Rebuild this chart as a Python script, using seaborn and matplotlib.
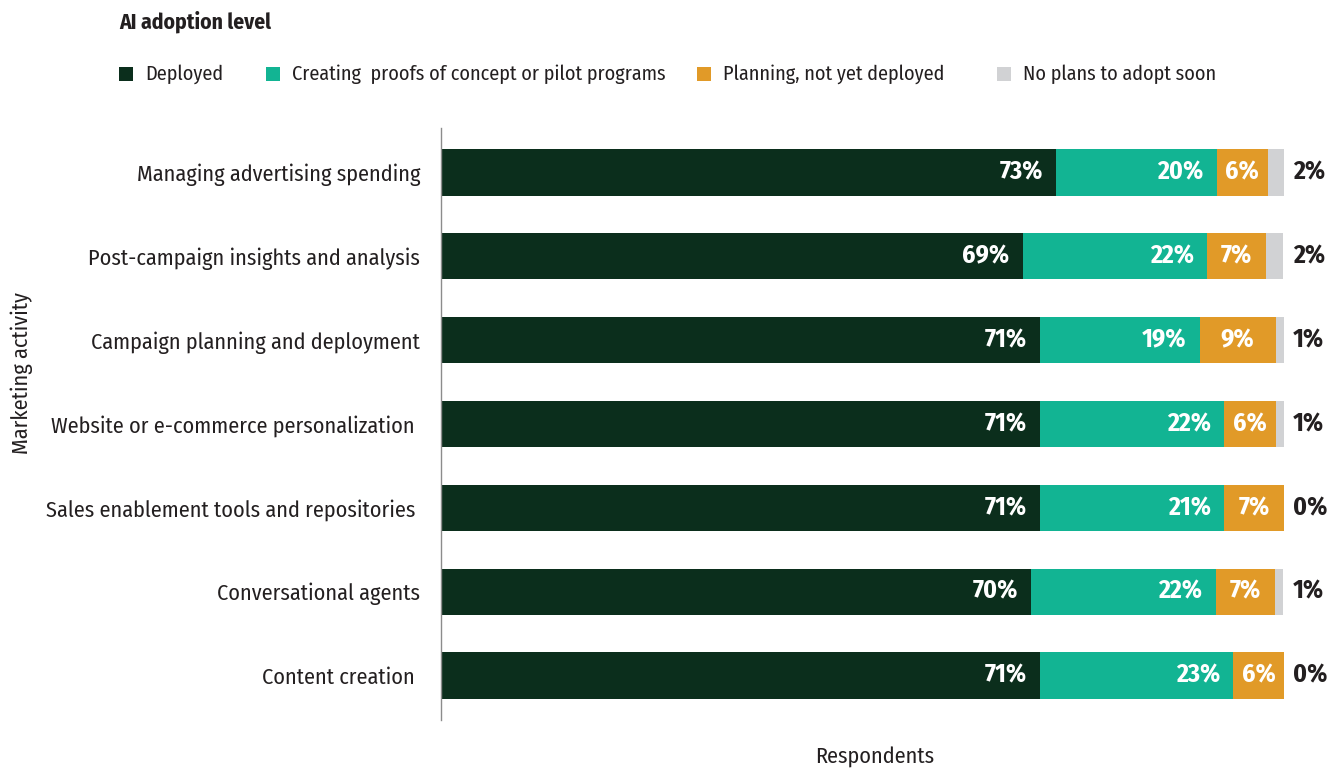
import numpy as np
import pandas as pd
import matplotlib
matplotlib.use("Agg")
import matplotlib.pyplot as plt
import seaborn as sns
from matplotlib.patches import Rectangle

# ---------------- data ----------------
activities = [
    "Managing advertising spending",
    "Post-campaign insights and analysis",
    "Campaign planning and deployment",
    "Website or e-commerce personalization ",
    "Sales enablement tools and repositories ",
    "Conversational agents",
    "Content creation ",
]
series_names = [
    "Deployed",
    "Creating  proofs of concept or pilot programs",
    "Planning, not yet deployed",
    "No plans to adopt soon",
]
deployed = [73.0, 69.0, 71.1, 71.1, 71.1, 70.0, 71.1]
pilot = [19.0, 21.9, 18.9, 21.8, 21.8, 21.9, 22.9]
planning = [6.1, 7.0, 9.0, 6.1, 7.1, 7.0, 6.1]
no_plans = [2.0, 2.0, 1.0, 1.0, 0.0, 1.0, 0.0]

deployed_labels = ["73%", "69%", "71%", "71%", "71%", "70%", "71%"]
pilot_labels = ["20%", "22%", "19%", "22%", "21%", "22%", "23%"]
planning_labels = ["6%", "7%", "9%", "6%", "7%", "7%", "6%"]
no_plans_labels = ["2%", "2%", "1%", "1%", "0%", "1%", "0%"]

colors = ["#0b2e1c", "#12b493", "#e19a28", "#d1d2d4"]
text_dark = "#231f20"

# ---------------- style ----------------
sns.set_theme(style="white")
plt.rcParams["font.family"] = ["Fira Sans Condensed", "DejaVu Sans"]

fig = plt.figure(figsize=(13.41, 7.72), dpi=100)
ax = fig.add_axes([441 / 1341, 1 - 720 / 772, 843 / 1341, 592 / 772])

values = np.array([deployed, pilot, planning, no_plans])
cum = np.cumsum(values, axis=0)

for i in reversed(range(4)):
    df = pd.DataFrame({"activity": activities, "value": cum[i]})
    sns.barplot(data=df, x="value", y="activity", color=colors[i], saturation=1,
                orient="h", width=0.55, ax=ax, linewidth=0, order=activities)

ax.set_xlim(0, 100)
ax.set_ylim(6.53, -0.53)

# value labels
starts = np.vstack([np.zeros(len(activities)), cum[:-1]])
val_fs = 18.5
for j in range(len(activities)):
    ax.annotate(deployed_labels[j], xy=(cum[0][j], j), xytext=(-9.5, 0),
                textcoords="offset points", ha="right", va="center",
                color="white", fontsize=val_fs, fontweight="bold")
    ax.annotate(pilot_labels[j], xy=(cum[1][j], j), xytext=(-9.5, 0),
                textcoords="offset points", ha="right", va="center",
                color="white", fontsize=val_fs, fontweight="bold")
    ax.annotate(planning_labels[j], xy=((starts[2][j] + cum[2][j]) / 2, j),
                ha="center", va="center", color="white", fontsize=val_fs,
                fontweight="bold")
    ax.annotate(no_plans_labels[j], xy=(100, j), xytext=(6.5, 0),
                textcoords="offset points", ha="left", va="center",
                color=text_dark, fontsize=val_fs, fontweight="bold",
                annotation_clip=False)

# axes cosmetics
for s in ["top", "right", "bottom"]:
    ax.spines[s].set_visible(False)
ax.spines["left"].set_color("#8c8c8c")
ax.spines["left"].set_linewidth(1.0)
ax.set_xticks([])
ax.tick_params(axis="y", length=0, pad=15, labelsize=16, labelcolor=text_dark)
ax.set_xlabel("")
ax.set_ylabel("")

fig.text(22 / 1341, 1 - 373 / 772, "Marketing activity", rotation=90,
         ha="center", va="center", fontsize=16, color=text_dark)
fig.text(875 / 1341, 1 - 757 / 772, "Respondents", ha="center", va="center",
         fontsize=16, color=text_dark)

# legend
fig.text(119 / 1341, 1 - 22 / 772, "AI adoption level", ha="left", va="center",
         fontsize=15.5, fontweight="bold", color=text_dark)
leg_x = [119, 266, 697, 997]
for k in range(4):
    fig.patches.append(Rectangle((leg_x[k] / 1341, 1 - 81 / 772), 14 / 1341, 14 / 772,
                                 transform=fig.transFigure, color=colors[k], lw=0))
    fig.text((leg_x[k] + 26) / 1341, 1 - 74 / 772, series_names[k], ha="left",
             va="center", fontsize=14.5, color=text_dark)

fig.savefig("out.png", dpi=100)
